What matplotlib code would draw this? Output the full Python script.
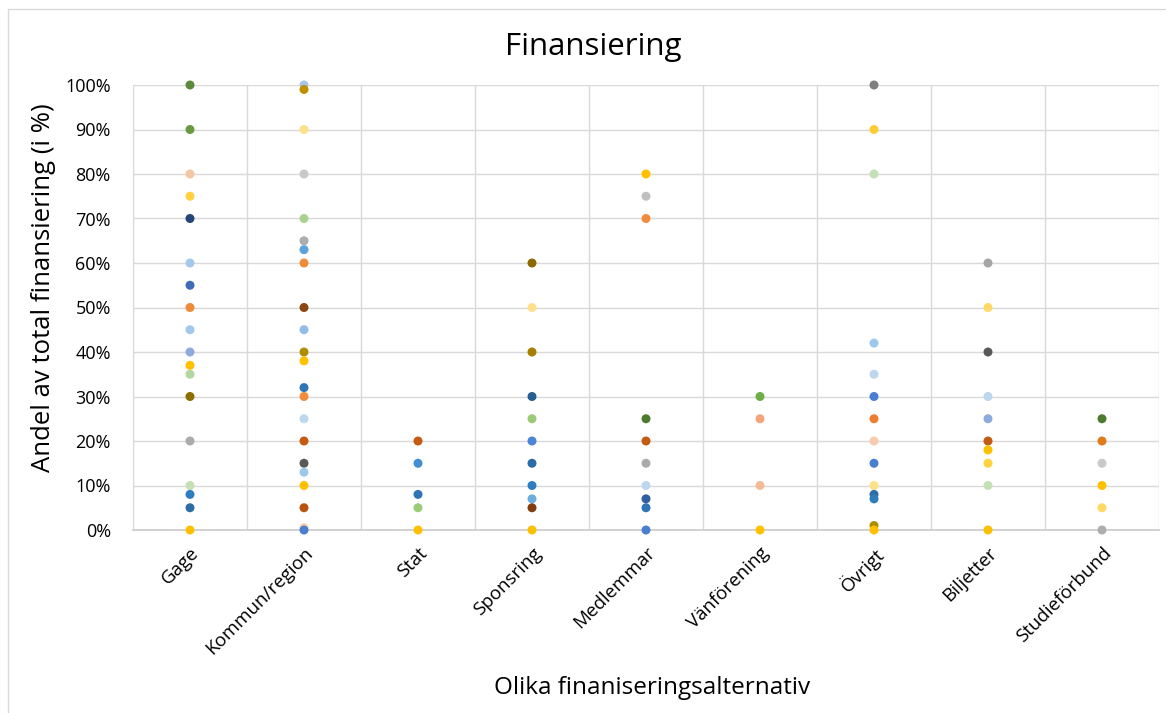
import numpy as np
import matplotlib
matplotlib.use('Agg')
import matplotlib.pyplot as plt
from matplotlib.patches import Rectangle

plt.rcParams['font.family'] = ['Open Sans', 'DejaVu Sans']

categories = ['Gage', 'Kommun/region', 'Stat', 'Sponsring', 'Medlemmar',
              'Vänförening', 'Övrigt', 'Biljetter', 'Studieförbund']

# andel i procent per kategori
gage = [100, 90, 80, 75, 70, 60, 55, 50, 45, 40, 37, 35, 30, 20, 10, 8, 5, 0]
kommun = [100, 99, 90, 80, 70, 65, 63, 60, 50, 45, 40, 38, 32, 30, 25, 20,
          15, 13, 10, 5, 0.5, 0]
stat = [20, 15, 8, 5, 0]
sponsring = [60, 50, 40, 30, 25, 20, 15, 10, 7, 5, 0]
medlemmar = [80, 75, 70, 25, 20, 15, 10, 7, 5, 0]
vanforening = [30, 25, 10, 0]
ovrigt = [100, 90, 80, 42, 35, 30, 25, 20, 15, 10, 8, 7, 1, 0]
biljetter = [60, 50, 40, 30, 25, 20, 18, 15, 10, 0]
studieforbund = [25, 20, 15, 10, 5, 0]

# punktfärger (samma ordning som värdena)
gage_c = ['#5B8A3A', '#6A9A3F', '#F4C7A2', '#FFD23F', '#264478', '#A3C8EC',
          '#3F6DB5', '#ED8B3A', '#A3C8EC', '#8FAADC', '#FFC000', '#B4D6A0',
          '#8C6D00', '#ABABAB', '#C5E0B4', '#2E7DC0', '#2F6EA5', '#FFC000']
kommun_c = ['#A9C4E8', '#BF9000', '#FFE08A', '#C9C9C9', '#A9D18E', '#ADADAD',
            '#5BA3DC', '#F08C3C', '#8B4513', '#8FBDE6', '#B08D00', '#FFC000',
            '#2E75B6', '#F08C3C', '#BDD7EE', '#C55A11', '#595959', '#9DC8EC',
            '#FFC000', '#B85410', '#F8CBAD', '#4A7FD0']
stat_c = ['#C55A11', '#3F8FD2', '#2E75B6', '#9BCB77', '#FFC000']
sponsring_c = ['#8C6A00', '#FFE08A', '#A67F00', '#255E91', '#9BCB77',
               '#4A86D6', '#2A6DA5', '#2E7DC0', '#6AAEE0', '#843C0C', '#FFC000']
medlemmar_c = ['#FFC000', '#BFBFBF', '#F08C3C', '#4E7A2E', '#C55A11',
               '#ABABAB', '#BDD7EE', '#2F5F9E', '#2E75B6', '#4A7FD0']
vanforening_c = ['#70AD47', '#F4A67A', '#F4BC96', '#FFC000']
ovrigt_c = ['#7F7F7F', '#FFCC33', '#C5E0B4', '#9DC8EC', '#BDD7EE', '#4A7FD0',
            '#ED7D31', '#F8CBAD', '#4A7FD0', '#FFE08A', '#2E6DA8', '#2E7DB8',
            '#B08D00', '#FFC000']
biljetter_c = ['#A5A5A5', '#FFD966', '#595959', '#BDD7EE', '#8FAADC',
               '#C55A11', '#FFC000', '#FFD23F', '#C5E0B4', '#FFC000']
studieforbund_c = ['#4E7A2E', '#E07B1C', '#C9C9C9', '#FFC000', '#FFD966',
                   '#ADADAD']

values = [gage, kommun, stat, sponsring, medlemmar, vanforening, ovrigt,
          biljetter, studieforbund]
colors = [gage_c, kommun_c, stat_c, sponsring_c, medlemmar_c, vanforening_c,
          ovrigt_c, biljetter_c, studieforbund_c]

fig = plt.figure(figsize=(11.66, 7.13), dpi=100)
# ram runt diagrammet
fig.patches.append(Rectangle((8/1166, -0.1), 1.2, 1 - 9/713 + 0.1,
                             transform=fig.transFigure, fill=False,
                             edgecolor='#D9D9D9', linewidth=1))

ax = fig.add_axes([133/1166, 1 - 530/713, 1026/1166, 445/713])

for i, (vals, cols) in enumerate(zip(values, colors)):
    ax.scatter([i] * len(vals), np.array(vals) / 100, c=cols, s=42,
               linewidths=0, zorder=3, clip_on=False)

ax.set_xlim(-0.5, len(categories) - 0.5)
ax.set_ylim(0, 1)
ax.set_yticks(np.arange(0, 1.01, 0.1))
ax.set_yticklabels([f'{int(round(v * 100))}%' for v in np.arange(0, 1.01, 0.1)],
                   fontsize=13)
ax.set_xticks(range(len(categories)))
ax.set_xticklabels(categories, rotation=45, ha='right', va='top',
                   rotation_mode='anchor', fontsize=13.5)
ax.set_xticks(np.arange(-0.5, len(categories), 1), minor=True)
ax.tick_params(axis='both', which='both', length=0)
ax.tick_params(axis='x', pad=10)
ax.tick_params(axis='y', pad=16)

ax.grid(axis='y', which='major', color='#D9D9D9', linewidth=1)
ax.grid(axis='x', which='minor', color='#D9D9D9', linewidth=1)
ax.set_axisbelow(True)
for side in ['top', 'right']:
    ax.spines[side].set_visible(False)
ax.spines['left'].set_color('#D9D9D9')
ax.spines['bottom'].set_color('#CFCFCF')
ax.spines['bottom'].set_linewidth(1.3)

fig.text(593/1166, 1 - 47/713, 'Finansiering', ha='center', va='center',
         fontsize=22.5)
fig.text(44/1166, 1 - 288/713, 'Andel av total finansiering (i %)',
         rotation=90, ha='center', va='center', fontsize=18.5)
fig.text(652/1166, 1 - 688/713, 'Olika finaniseringsalternativ',
         ha='center', va='center', fontsize=17.5)

fig.savefig('out.png', dpi=100)
